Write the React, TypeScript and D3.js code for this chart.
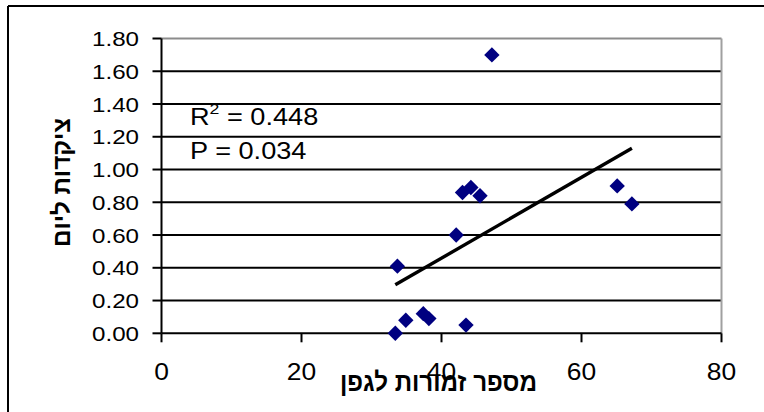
import React from "react";
import * as d3 from "d3";

const xValues = [47.2, 43.0, 44.2, 45.5, 65.1, 67.2, 42.1, 33.7, 33.4, 34.9, 37.4, 38.2, 43.5];
const yValues = [1.70, 0.86, 0.89, 0.84, 0.90, 0.79, 0.60, 0.41, 0.00, 0.08, 0.12, 0.09, 0.05];
const xTicks = [0, 20, 40, 60, 80];
const yTicks = [0, 0.2, 0.4, 0.6, 0.8, 1.0, 1.2, 1.4, 1.6, 1.8];
const rSquaredLabel = "0.448";
const pLabel = "0.034";
const xTitle = "מספר זמורות לגפן";
const yTitle = "ציקדות ליום";

const W = 764;
const H = 412;

export default function App() {
  const x = d3.scaleLinear().domain([0, 80]).range([161.5, 721.5]);
  const y = d3.scaleLinear().domain([0, 1.8]).range([333.3, 38.5]);

  const pts = xValues.map((xv, i) => ({ x: xv, y: yValues[i] }));
  const mx = d3.mean(xValues) as number;
  const my = d3.mean(yValues) as number;
  const sxy = d3.sum(pts, (p) => (p.x - mx) * (p.y - my));
  const sxx = d3.sum(pts, (p) => (p.x - mx) * (p.x - mx));
  const slope = sxy / sxx;
  const intercept = my - slope * mx;
  const [xmin, xmax] = d3.extent(xValues) as [number, number];
  const trend = [
    { x: xmin, y: intercept + slope * xmin },
    { x: xmax, y: intercept + slope * xmax },
  ];
  const line = d3
    .line<{ x: number; y: number }>()
    .x((d) => x(d.x))
    .y((d) => y(d.y));

  const diamond = d3.symbol().type(d3.symbolSquare).size(118)() as string;

  const x0 = x(0);
  const x1 = x(80);
  const y0 = y(0);
  const y1 = y(1.8);
  const font = "'Liberation Sans', Arial, sans-serif";

  return (
    <div style={{ position: "absolute", left: 0, top: 0 }}>
      <svg width={W} height={H} style={{ display: "block", background: "#fff" }}>
        {/* outer border */}
        <line x1={8} y1={6} x2={W} y2={6} stroke="#000" strokeWidth={2} />
        <line x1={8} y1={6} x2={8} y2={H} stroke="#000" strokeWidth={2} />

        {/* gridlines */}
        {yTicks
          .filter((t) => t > 0 && t < 1.8)
          .map((t) => (
            <line key={"g" + t} x1={x0} x2={x1} y1={y(t)} y2={y(t)} stroke="#000" strokeWidth={2} />
          ))}
        {/* plot area top / right border */}
        <line x1={x0} x2={x1} y1={y1} y2={y1} stroke="#8c8c8c" strokeWidth={2} />
        <line x1={x1} x2={x1} y1={y1} y2={y0} stroke="#a0a0a0" strokeWidth={2} />

        {/* axes */}
        <line x1={x0} x2={x0} y1={y1} y2={y0} stroke="#000" strokeWidth={2} />
        <line x1={x0} x2={x1} y1={y0} y2={y0} stroke="#000" strokeWidth={2} />
        {yTicks.map((t) => (
          <line key={"yt" + t} x1={x0 - 9} x2={x0} y1={y(t)} y2={y(t)} stroke="#000" strokeWidth={2} />
        ))}
        {xTicks.map((t) => (
          <line key={"xt" + t} x1={x(t)} x2={x(t)} y1={y0} y2={y0 + 9} stroke="#000" strokeWidth={2} />
        ))}

        {/* y tick labels */}
        {yTicks.map((t) => (
          <text
            key={"yl" + t}
            transform={`translate(139, ${y(t) + 7.6}) scale(1.15,1)`}
            textAnchor="end"
            fontFamily={font}
            fontSize={21}
            fill="#000"
          >
            {t.toFixed(2)}
          </text>
        ))}
        {/* x tick labels */}
        {xTicks.map((t) => (
          <text
            key={"xl" + t}
            transform={`translate(${x(t)}, 380) scale(1.1,1)`}
            textAnchor="middle"
            fontFamily={font}
            fontSize={24}
            fill="#000"
          >
            {t}
          </text>
        ))}

        {/* trend line */}
        <path d={line(trend) as string} stroke="#000" strokeWidth={3.4} fill="none" />

        {/* points */}
        {pts.map((p, i) => (
          <path
            key={"p" + i}
            d={diamond}
            transform={`translate(${x(p.x)}, ${y(p.y)}) rotate(45)`}
            fill="#000080"
          />
        ))}

        {/* annotations */}
        <text transform="translate(190, 125) scale(1.18,1)" fontFamily={font} fontSize={23} fill="#000">
          R
          <tspan fontSize={15} dy={-11}>2</tspan>
          <tspan dy={11}>{" = " + rSquaredLabel}</tspan>
        </text>
        <text transform="translate(190, 159) scale(1.18,1)" fontFamily={font} fontSize={23} fill="#000">
          {"P = " + pLabel}
        </text>

        {/* axis titles */}
        <text
          x={438.5}
          y={391}
          textAnchor="middle"
          fontFamily={font}
          fontWeight="bold"
          fontSize={26}
          fill="#000"
          direction="rtl"
          textLength={197}
          lengthAdjust="spacingAndGlyphs"
        >
          {xTitle}
        </text>
        <text
          transform={`translate(70, 182.5) rotate(-90)`}
          textAnchor="middle"
          fontFamily={font}
          fontWeight="bold"
          fontSize={24}
          fill="#000"
          direction="rtl"
          textLength={129}
          lengthAdjust="spacingAndGlyphs"
        >
          {yTitle}
        </text>
      </svg>
    </div>
  );
}
